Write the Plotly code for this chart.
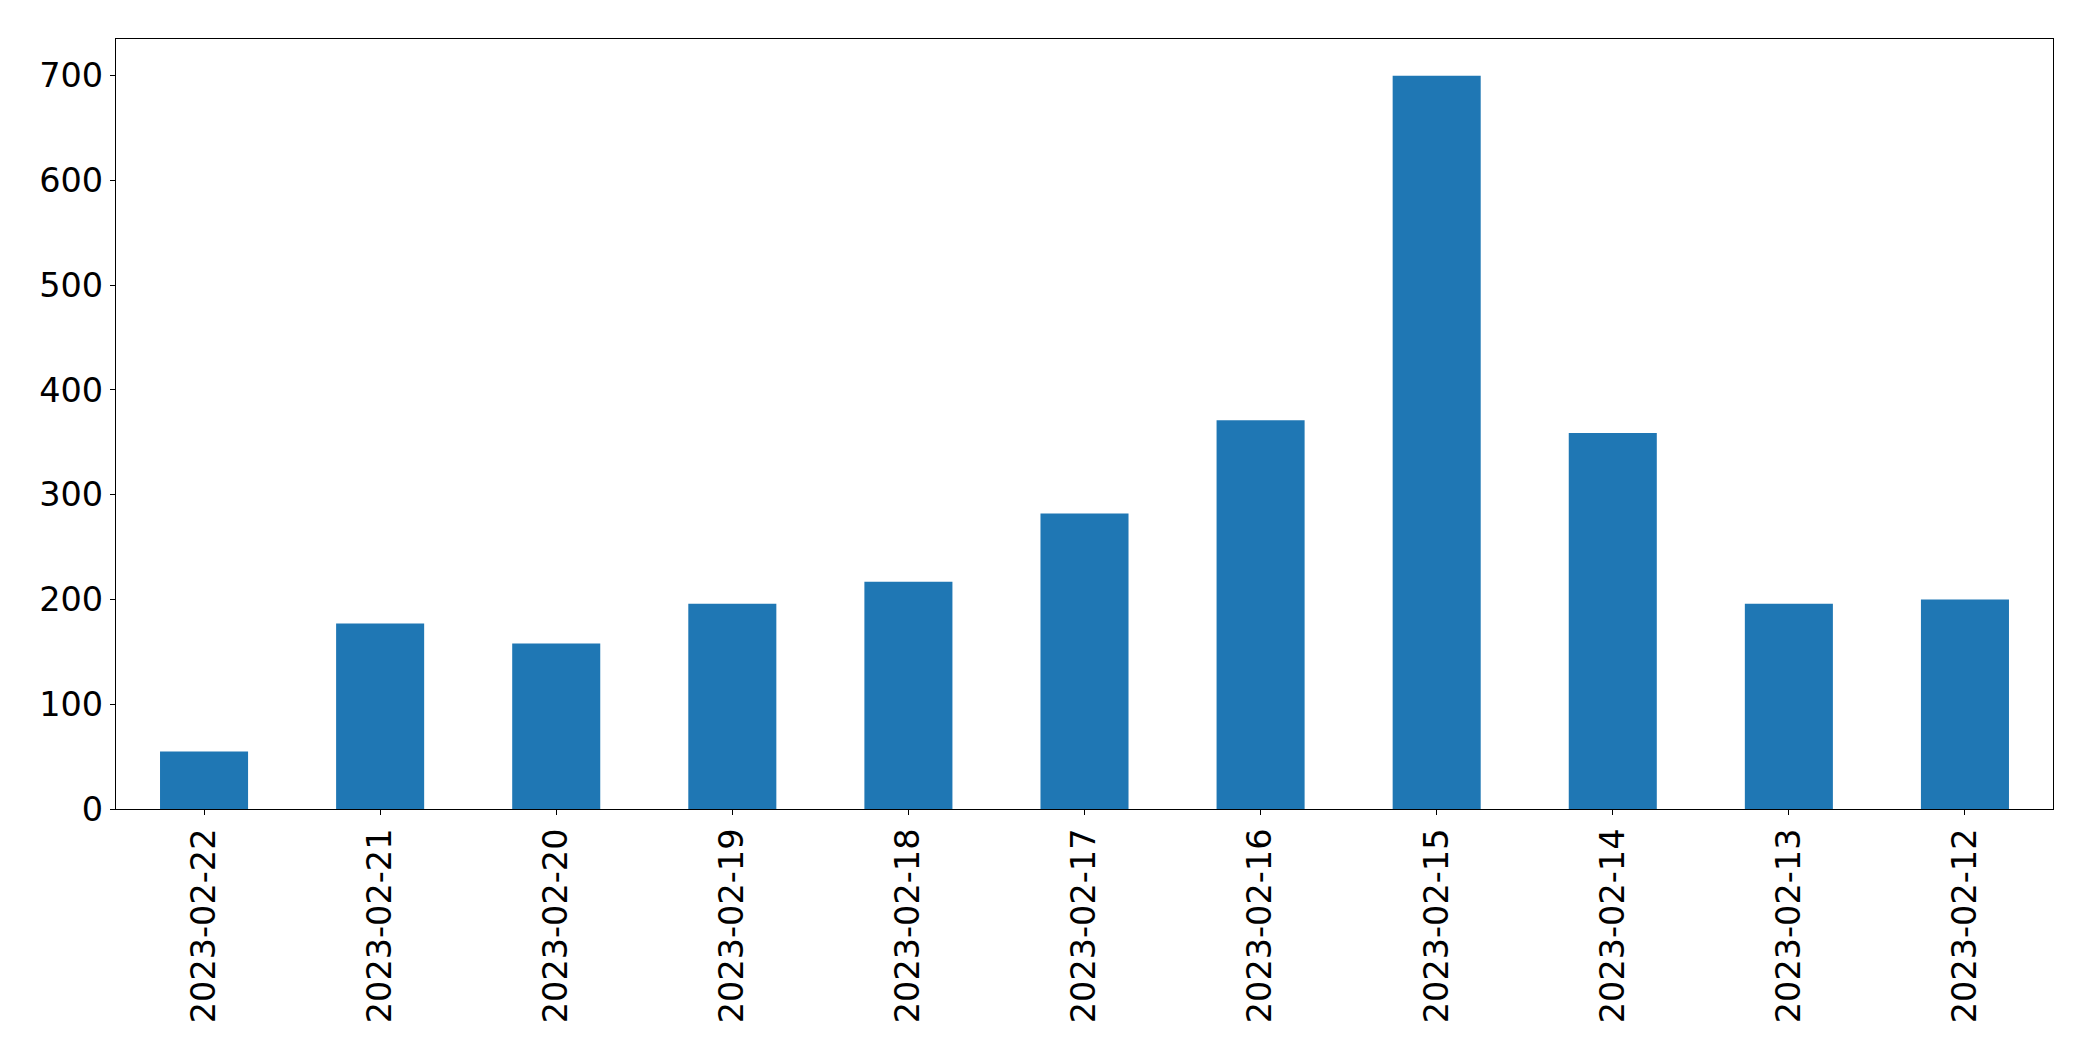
import plotly.graph_objects as go

dates = ["2023-02-22", "2023-02-21", "2023-02-20", "2023-02-19", "2023-02-18",
         "2023-02-17", "2023-02-16", "2023-02-15", "2023-02-14", "2023-02-13",
         "2023-02-12"]
counts = [55, 177, 158, 196, 217, 282, 371, 700, 359, 196, 200]
y_ticks = [0, 100, 200, 300, 400, 500, 600, 700]

fig = go.Figure(go.Bar(x=dates, y=counts, width=0.5, marker=dict(color="#1f77b4", line=dict(width=0))))

font = dict(family="DejaVu Sans", size=33.5, color="black")
fig.update_layout(
    width=2093, height=1061,
    margin=dict(l=116, r=40, t=39, b=252, pad=0),
    plot_bgcolor="white", paper_bgcolor="white",
    showlegend=False,
    font=font,
)
fig.update_xaxes(
    type="category", range=[-0.5, 10.5], tickangle=-90,
    showline=True, linecolor="black", linewidth=1.3, mirror=True,
    ticks="outside", ticklen=5, tickwidth=1.3, tickcolor="black",
    showgrid=False, zeroline=False, tickfont=font, automargin=False,
)
fig.update_yaxes(
    range=[0, 735], tickvals=y_ticks,
    showline=True, linecolor="black", linewidth=1.3, mirror=True,
    ticks="outside", ticklen=5, tickwidth=1.3, tickcolor="black",
    showgrid=False, zeroline=False, tickfont=font, automargin=False,
)
fig.write_html("out.html")
